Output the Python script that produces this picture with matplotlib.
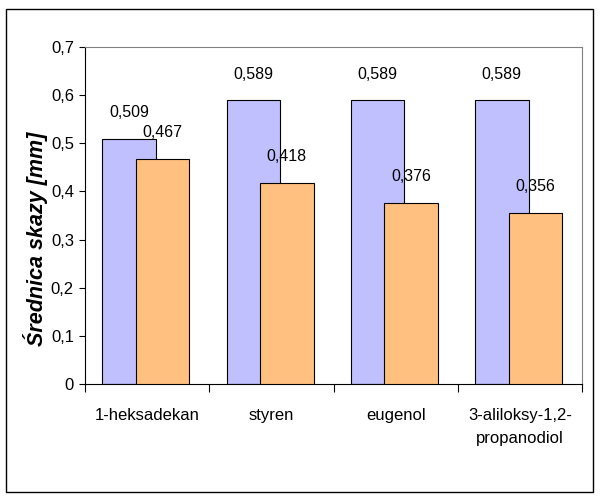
import matplotlib.pyplot as plt
import numpy as np
from matplotlib.patches import Rectangle
from matplotlib.ticker import FixedLocator

categories = ["1-heksadekan", "styren", "eugenol", "3-aliloksy-1,2-\npropanodiol"]
series_a = [0.509, 0.589, 0.589, 0.589]
series_b = [0.467, 0.418, 0.376, 0.356]
y_ticks = [0, 0.1, 0.2, 0.3, 0.4, 0.5, 0.6, 0.7]


def fmt(v):
    # przecinek dziesiętny jak w Excelu
    s = f"{v:.3f}".rstrip("0").rstrip(".")
    return s.replace(".", ",")


def main():
    plt.rcParams["font.family"] = ["Liberation Sans", "DejaVu Sans"]
    plt.rcParams["font.size"] = 12

    fig = plt.figure(figsize=(6, 5), dpi=100)
    fig.patches.append(Rectangle((0.010, 0.016), 0.978, 0.966, transform=fig.transFigure,
                                 fill=False, edgecolor="black", linewidth=1.0))

    ax = fig.add_axes([0.1417, 0.232, 0.8283, 0.674])
    x = np.arange(len(categories))
    width = 0.43

    bars_a = ax.bar(x - 0.145, series_a, width, color="#C0C0FF", edgecolor="black", linewidth=0.8, zorder=2)
    bars_b = ax.bar(x + 0.125, series_b, width, color="#FFC080", edgecolor="black", linewidth=0.8, zorder=3)

    for bars, vals in ((bars_a, series_a), (bars_b, series_b)):
        for b, v in zip(bars, vals):
            ax.annotate(fmt(v), (b.get_x() + b.get_width() / 2, v), xytext=(0, 19),
                        textcoords="offset points", ha="center", va="center", fontsize=11.5, zorder=5)

    ax.set_xlim(-0.5, len(categories) - 0.5)
    ax.set_ylim(0, 0.7)
    ax.set_yticks(y_ticks)
    ax.set_yticklabels([fmt(t) for t in y_ticks])
    ax.set_xticks(x)
    ax.set_xticklabels(categories, linespacing=1.7)
    ax.xaxis.set_minor_locator(FixedLocator(np.arange(-0.5, len(categories), 1.0)))
    ax.tick_params(axis="x", which="major", length=0, pad=17)
    ax.tick_params(axis="x", which="minor", length=6, direction="out", width=0.8)
    ax.tick_params(axis="y", length=4, direction="out", width=0.8, pad=4)
    for lbl in ax.get_xticklabels():
        lbl.set_verticalalignment("top")

    ax.set_ylabel("Średnica skazy [mm]", style="italic", weight="bold", fontsize=15.5)
    ax.yaxis.set_label_coords(-0.075, 0.43)

    for side in ("top", "right"):
        ax.spines[side].set_color("#808080")
    for side in ("left", "bottom"):
        ax.spines[side].set_color("black")

    fig.savefig("out.png", dpi=100)


if __name__ == "__main__":
    main()
